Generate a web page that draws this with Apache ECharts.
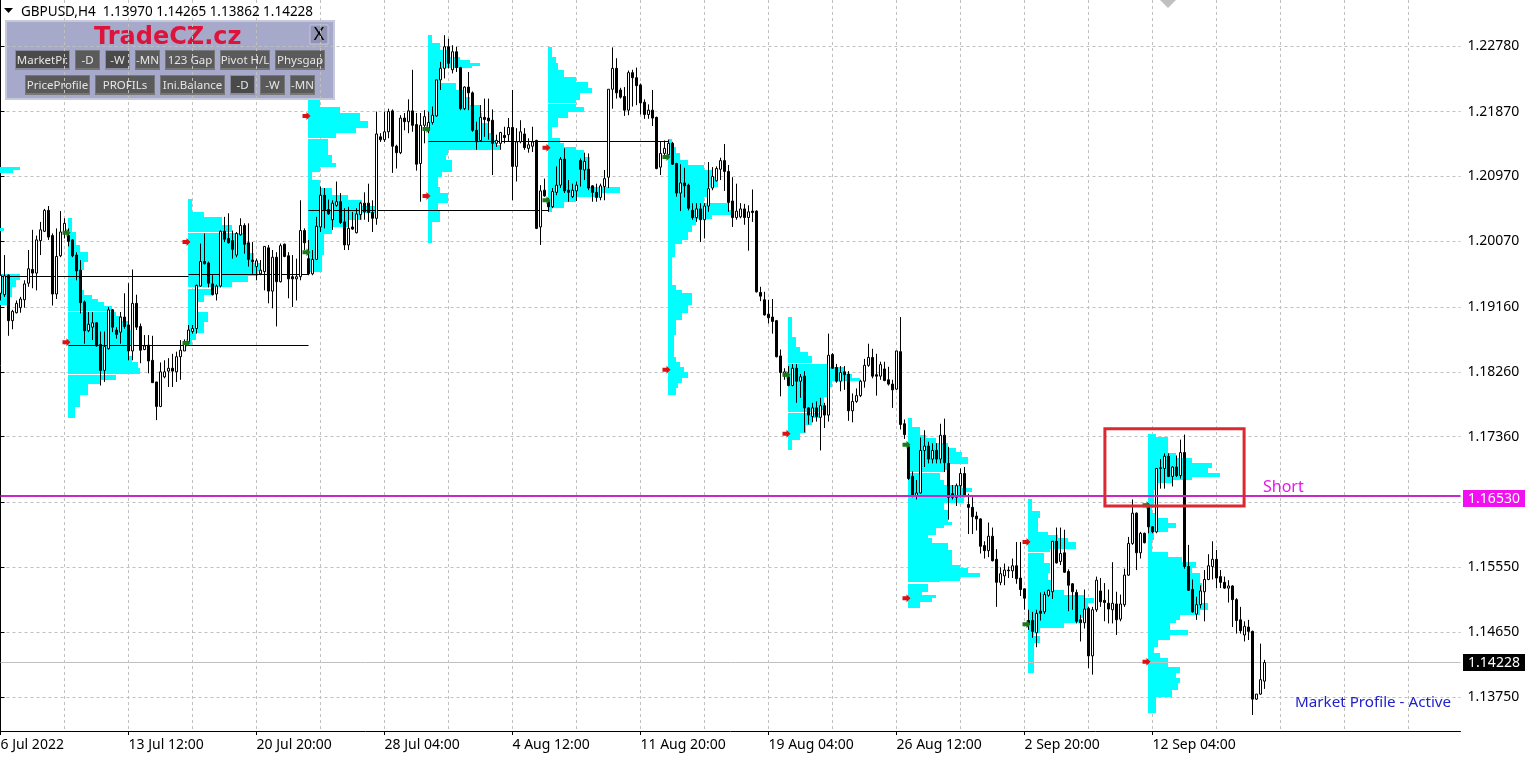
<!DOCTYPE html>
<html lang="en">

<head>
    <meta charset="UTF-8">
    <title>GBPUSD H4 Market Profile</title>
    <script src="https://cdn.jsdelivr.net/npm/echarts@6/dist/echarts.min.js"></script>
    <style>
        html, body { margin: 0; padding: 0; background: #fff; }
        #myChart { width: 1529px; height: 758px; }
    </style>
</head>

<body>
    <div id="myChart"></div>
    <script>
        // H4 bars, one row per bar: open, close, low, high
        var candles = [
            [1.1935,1.1960,1.1925,1.1973],[1.1933,1.1959,1.1930,1.1988],[1.1960,1.1897,1.1876,1.1961],[1.1897,1.1910,1.1885,1.1912],
            [1.1908,1.1921,1.1907,1.1925],[1.1915,1.1927,1.1908,1.1930],[1.1926,1.1948,1.1915,1.1953],[1.1949,1.1969,1.1944,1.1995],
            [1.1968,1.1963,1.1942,1.2023],[1.1963,1.2009,1.1939,1.2015],[1.2008,1.2023,1.1988,1.2034],[1.2021,1.2050,1.2020,1.2052],
            [1.2050,1.2013,1.2009,1.2056],[1.2015,1.1934,1.1918,1.2018],[1.1934,1.1986,1.1927,1.2025],[1.1987,1.2020,1.1985,1.2049],
            [1.2020,1.2032,1.2011,1.2039],[1.2015,1.2007,1.2000,1.2025],[1.2009,1.1987,1.1985,1.2010],[1.1988,1.1966,1.1953,1.1992],
            [1.1967,1.1922,1.1907,1.1981],[1.1923,1.1883,1.1865,1.1925],[1.1883,1.1892,1.1881,1.1909],[1.1888,1.1894,1.1870,1.1909],
            [1.1894,1.1862,1.1861,1.1895],[1.1864,1.1828,1.1807,1.1882],[1.1828,1.1861,1.1812,1.1882],[1.1858,1.1912,1.1857,1.1916],
            [1.1912,1.1888,1.1881,1.1913],[1.1884,1.1878,1.1872,1.1888],[1.1881,1.1902,1.1865,1.1909],[1.1902,1.1889,1.1886,1.1935],
            [1.1891,1.1855,1.1842,1.1949],[1.1855,1.1921,1.1842,1.1968],[1.1921,1.1888,1.1884,1.1933],[1.1889,1.1856,1.1838,1.1893],
            [1.1857,1.1862,1.1856,1.1877],[1.1863,1.1841,1.1824,1.1877],[1.1842,1.1811,1.1811,1.1876],[1.1812,1.1778,1.1759,1.1812],
            [1.1778,1.1826,1.1777,1.1839],[1.1819,1.1826,1.1817,1.1842],[1.1827,1.1831,1.1805,1.1845],[1.1831,1.1827,1.1805,1.1851],
            [1.1826,1.1847,1.1812,1.1854],[1.1847,1.1856,1.1815,1.1870],[1.1855,1.1868,1.1855,1.1871],[1.1868,1.1884,1.1865,1.1891],
            [1.1882,1.1886,1.1879,1.1891],[1.1886,1.1946,1.1879,1.1947],[1.1945,1.1979,1.1944,1.2004],[1.1979,1.1976,1.1975,1.2018],
            [1.1977,1.1949,1.1943,1.1979],[1.1948,1.1933,1.1932,1.1960],[1.1934,1.1945,1.1925,1.1947],[1.1945,1.2021,1.1943,1.2022],
            [1.2021,1.2010,1.2006,1.2041],[1.2011,1.2005,1.2004,1.2046],[1.2008,1.1996,1.1983,1.2022],[1.1988,1.2018,1.1985,1.2020],
            [1.2016,1.2029,1.2015,1.2039],[1.2029,1.2003,1.1990,1.2032],[1.2005,1.1982,1.1972,1.2032],[1.1981,1.1979,1.1962,1.2006],
            [1.1972,1.1980,1.1953,1.1983],[1.1962,1.1967,1.1960,1.1981],[1.1965,1.2000,1.1939,1.2000],[1.1998,1.1938,1.1921,1.2002],
            [1.1938,1.1985,1.1914,1.1995],[1.1985,1.1951,1.1889,1.1992],[1.1951,1.2001,1.1950,1.2004],[1.2003,1.1986,1.1985,1.2004],
            [1.1987,1.1955,1.1928,1.1992],[1.1958,1.1955,1.1916,1.1988],[1.1955,1.1958,1.1925,1.1983],[1.1958,1.2022,1.1953,1.2064],
            [1.2022,1.2005,1.1995,1.2025],[1.1983,1.1962,1.1960,1.2009],[1.1962,1.1982,1.1960,1.1995],[1.1982,1.2028,1.1981,1.2041],
            [1.2027,1.2071,1.2020,1.2083],[1.2071,1.2051,1.2025,1.2081],[1.2051,1.2045,1.2044,1.2065],[1.2037,1.2060,1.2023,1.2064],
            [1.2057,1.2062,1.2055,1.2090],[1.2062,1.2033,1.2031,1.2074],[1.2034,1.2002,1.1995,1.2053],[1.2002,1.2025,1.1995,1.2055],
            [1.2027,1.2024,1.2023,1.2048],[1.2019,1.2045,1.2018,1.2053],[1.2044,1.2060,1.2037,1.2062],[1.2060,1.2048,1.2037,1.2075],
            [1.2060,1.2047,1.2034,1.2087],[1.2047,1.2039,1.2020,1.2064],[1.2039,1.2156,1.2030,1.2187],[1.2152,1.2148,1.2145,1.2157],
            [1.2148,1.2159,1.2145,1.2187],[1.2159,1.2187,1.2150,1.2191],[1.2188,1.2139,1.2102,1.2190],[1.2139,1.2130,1.2108,1.2141],
            [1.2130,1.2178,1.2128,1.2182],[1.2178,1.2173,1.2161,1.2185],[1.2173,1.2188,1.2157,1.2204],[1.2188,1.2168,1.2159,1.2245],
            [1.2169,1.2114,1.2105,1.2185],[1.2115,1.2168,1.2062,1.2185],[1.2168,1.2180,1.2143,1.2189],[1.2161,1.2172,1.2157,1.2187],
            [1.2172,1.2182,1.2169,1.2194],[1.2181,1.2231,1.2180,1.2231],[1.2231,1.2247,1.2217,1.2256],[1.2247,1.2277,1.2233,1.2293],
            [1.2277,1.2254,1.2247,1.2288],[1.2245,1.2270,1.2240,1.2279],[1.2270,1.2248,1.2242,1.2277],[1.2248,1.2191,1.2189,1.2249],
            [1.2191,1.2221,1.2189,1.2222],[1.2221,1.2213,1.2189,1.2242],[1.2213,1.2161,1.2159,1.2215],[1.2161,1.2145,1.2134,1.2173],
            [1.2147,1.2179,1.2145,1.2196],[1.2179,1.2176,1.2152,1.2205],[1.2178,1.2174,1.2148,1.2205],[1.2175,1.2143,1.2099,1.2190],
            [1.2143,1.2147,1.2138,1.2155],[1.2143,1.2158,1.2134,1.2159],[1.2154,1.2151,1.2143,1.2166],[1.2155,1.2165,1.2145,1.2178],
            [1.2165,1.2111,1.2064,1.2217],[1.2111,1.2145,1.2090,1.2164],[1.2145,1.2159,1.2143,1.2175],[1.2156,1.2137,1.2134,1.2164],
            [1.2136,1.2141,1.2130,1.2150],[1.2139,1.2145,1.2131,1.2166],[1.2147,1.2025,1.2024,1.2148],[1.2027,1.2077,1.2002,1.2085],
            [1.2078,1.2070,1.2069,1.2094],[1.2062,1.2055,1.2048,1.2067],[1.2055,1.2076,1.2053,1.2081],[1.2075,1.2085,1.2071,1.2111],
            [1.2085,1.2121,1.2081,1.2124],[1.2121,1.2077,1.2074,1.2136],[1.2078,1.2075,1.2062,1.2092],[1.2069,1.2078,1.2067,1.2087],
            [1.2077,1.2085,1.2063,1.2090],[1.2119,1.2107,1.2083,1.2122],[1.2106,1.2118,1.2092,1.2130],[1.2107,1.2081,1.2078,1.2129],
            [1.2084,1.2075,1.2062,1.2085],[1.2075,1.2068,1.2062,1.2087],[1.2068,1.2084,1.2064,1.2087],[1.2083,1.2094,1.2064,1.2106],
            [1.2096,1.2218,1.2081,1.2218],[1.2218,1.2247,1.2191,1.2276],[1.2247,1.2213,1.2205,1.2261],[1.2217,1.2207,1.2205,1.2220],
            [1.2208,1.2189,1.2181,1.2221],[1.2189,1.2241,1.2182,1.2244],[1.2241,1.2234,1.2194,1.2245],[1.2234,1.2223,1.2196,1.2248],
            [1.2224,1.2199,1.2183,1.2226],[1.2200,1.2183,1.2177,1.2204],[1.2183,1.2189,1.2177,1.2197],[1.2189,1.2178,1.2167,1.2217],
            [1.2179,1.2108,1.2107,1.2180],[1.2110,1.2129,1.2099,1.2145],[1.2129,1.2136,1.2122,1.2147],[1.2127,1.2143,1.2123,1.2148],
            [1.2143,1.2114,1.2113,1.2145],[1.2115,1.2074,1.2069,1.2116],[1.2074,1.2088,1.2049,1.2114],[1.2088,1.2084,1.2068,1.2109],
            [1.2085,1.2053,1.2050,1.2087],[1.2050,1.2040,1.2037,1.2060],[1.2040,1.2052,1.2034,1.2060],[1.2052,1.2037,1.2006,1.2060],
            [1.2037,1.2056,1.2011,1.2060],[1.2056,1.2080,1.2048,1.2117],[1.2081,1.2097,1.2078,1.2110],[1.2091,1.2108,1.2090,1.2111],
            [1.2107,1.2119,1.2092,1.2123],[1.2119,1.2104,1.2077,1.2142],[1.2104,1.2061,1.2048,1.2113],[1.2063,1.2040,1.2027,1.2096],
            [1.2040,1.2049,1.2037,1.2087],[1.2041,1.2052,1.2039,1.2060],[1.2052,1.2040,1.2030,1.2059],[1.2040,1.2048,1.1994,1.2057],
            [1.2049,1.2047,1.2034,1.2079],[1.2049,1.1937,1.1936,1.2050],[1.1936,1.1931,1.1924,1.1944],[1.1926,1.1905,1.1904,1.1937],
            [1.1906,1.1901,1.1893,1.1926],[1.1902,1.1896,1.1879,1.1927],[1.1897,1.1847,1.1846,1.1898],[1.1848,1.1825,1.1792,1.1857],
            [1.1820,1.1826,1.1815,1.1831],[1.1819,1.1807,1.1806,1.1834],[1.1807,1.1831,1.1806,1.1837],[1.1831,1.1813,1.1783,1.1837],
            [1.1813,1.1819,1.1790,1.1823],[1.1820,1.1776,1.1742,1.1827],[1.1776,1.1766,1.1753,1.1777],[1.1764,1.1776,1.1756,1.1783],
            [1.1776,1.1764,1.1757,1.1785],[1.1763,1.1779,1.1717,1.1790],[1.1779,1.1766,1.1748,1.1783],[1.1766,1.1849,1.1757,1.1879],
            [1.1850,1.1831,1.1830,1.1852],[1.1832,1.1813,1.1811,1.1837],[1.1813,1.1825,1.1799,1.1834],[1.1826,1.1822,1.1801,1.1834],
            [1.1823,1.1772,1.1758,1.1827],[1.1772,1.1785,1.1756,1.1796],[1.1785,1.1793,1.1783,1.1803],[1.1793,1.1813,1.1791,1.1815],
            [1.1813,1.1835,1.1804,1.1844],[1.1835,1.1846,1.1833,1.1865],[1.1846,1.1820,1.1817,1.1858],[1.1822,1.1820,1.1793,1.1851],
            [1.1820,1.1836,1.1815,1.1840],[1.1830,1.1814,1.1813,1.1840],[1.1815,1.1809,1.1807,1.1833],[1.1809,1.1801,1.1776,1.1815],
            [1.1802,1.1855,1.1801,1.1855],[1.1854,1.1753,1.1746,1.1902],[1.1754,1.1739,1.1733,1.1760],[1.1722,1.1678,1.1676,1.1724],
            [1.1681,1.1655,1.1652,1.1688],[1.1654,1.1658,1.1649,1.1676],[1.1658,1.1717,1.1657,1.1735],[1.1717,1.1723,1.1694,1.1745],
            [1.1723,1.1705,1.1699,1.1729],[1.1705,1.1717,1.1699,1.1727],[1.1717,1.1705,1.1699,1.1727],[1.1705,1.1738,1.1699,1.1754],
            [1.1738,1.1700,1.1687,1.1761],[1.1699,1.1652,1.1621,1.1722],[1.1657,1.1652,1.1649,1.1669],[1.1652,1.1668,1.1640,1.1671],
            [1.1668,1.1685,1.1652,1.1692],[1.1685,1.1654,1.1652,1.1694],[1.1642,1.1638,1.1601,1.1657],[1.1638,1.1625,1.1601,1.1652],
            [1.1626,1.1622,1.1606,1.1632],[1.1622,1.1584,1.1574,1.1623],[1.1585,1.1578,1.1567,1.1591],[1.1578,1.1598,1.1569,1.1617],
            [1.1598,1.1564,1.1563,1.1610],[1.1566,1.1534,1.1500,1.1580],[1.1534,1.1546,1.1530,1.1555],[1.1543,1.1551,1.1530,1.1560],
            [1.1551,1.1550,1.1540,1.1556],[1.1550,1.1557,1.1540,1.1567],[1.1557,1.1539,1.1532,1.1590],[1.1540,1.1524,1.1515,1.1590],
            [1.1525,1.1512,1.1496,1.1525],[1.1481,1.1477,1.1468,1.1496],[1.1481,1.1466,1.1457,1.1493],[1.1464,1.1491,1.1444,1.1496],
            [1.1494,1.1491,1.1481,1.1520],[1.1493,1.1517,1.1490,1.1521],[1.1516,1.1523,1.1514,1.1524],[1.1521,1.1591,1.1511,1.1591],
            [1.1591,1.1561,1.1560,1.1610],[1.1563,1.1574,1.1558,1.1610],[1.1575,1.1548,1.1547,1.1607],[1.1549,1.1530,1.1494,1.1552],
            [1.1532,1.1521,1.1496,1.1533],[1.1520,1.1480,1.1477,1.1524],[1.1482,1.1478,1.1452,1.1489],[1.1478,1.1497,1.1470,1.1524],
            [1.1498,1.1432,1.1415,1.1500],[1.1432,1.1496,1.1406,1.1500],[1.1496,1.1537,1.1493,1.1542],[1.1522,1.1507,1.1500,1.1540],
            [1.1509,1.1506,1.1480,1.1533],[1.1505,1.1497,1.1477,1.1524],[1.1496,1.1505,1.1477,1.1562],[1.1504,1.1482,1.1461,1.1521],
            [1.1483,1.1504,1.1480,1.1517],[1.1503,1.1544,1.1500,1.1553],[1.1544,1.1588,1.1543,1.1597],[1.1588,1.1630,1.1586,1.1649],
            [1.1630,1.1575,1.1551,1.1631],[1.1575,1.1602,1.1567,1.1604],[1.1602,1.1589,1.1588,1.1603],[1.1638,1.1611,1.1602,1.1644],
            [1.1611,1.1604,1.1602,1.1612],[1.1604,1.1692,1.1602,1.1692],[1.1692,1.1693,1.1664,1.1705],[1.1692,1.1709,1.1664,1.1713],
            [1.1709,1.1681,1.1680,1.1713],[1.1681,1.1694,1.1667,1.1695],[1.1694,1.1682,1.1680,1.1710],[1.1682,1.1714,1.1678,1.1732],
            [1.1714,1.1556,1.1553,1.1739],[1.1556,1.1523,1.1522,1.1586],[1.1524,1.1493,1.1492,1.1538],[1.1490,1.1503,1.1482,1.1514],
            [1.1503,1.1522,1.1498,1.1530],[1.1521,1.1538,1.1480,1.1551],[1.1538,1.1557,1.1537,1.1573],[1.1556,1.1566,1.1538,1.1591],
            [1.1566,1.1540,1.1526,1.1579],[1.1542,1.1534,1.1526,1.1551],[1.1534,1.1526,1.1525,1.1542],[1.1526,1.1529,1.1506,1.1537],
            [1.1529,1.1510,1.1472,1.1530],[1.1510,1.1481,1.1463,1.1512],[1.1482,1.1467,1.1463,1.1500],[1.1461,1.1473,1.1452,1.1480],
            [1.1472,1.1466,1.1454,1.1482],[1.1466,1.1372,1.1350,1.1467],[1.1372,1.1379,1.1371,1.1379],[1.1379,1.1399,1.1378,1.1449],
            [1.13970,1.14228,1.13862,1.14265]
        ];

        // one label per 32 bars
        var timeLabels = ['6 Jul 2022', '13 Jul 12:00', '20 Jul 20:00', '28 Jul 04:00', '4 Aug 12:00', '11 Aug 20:00', '19 Aug 04:00', '26 Aug 12:00', '2 Sep 20:00', '12 Sep 04:00'];
        var priceTicks = [1.2278, 1.2187, 1.2097, 1.2007, 1.1916, 1.1826, 1.1736, 1.1645, 1.1555, 1.1465, 1.1375];
        var priceLabels = [1.2278, 1.2187, 1.2097, 1.2007, 1.1916, 1.1826, 1.1736, 1.1555, 1.1465, 1.1375];

        var shortLevel = 1.1653;
        var bidLevel = 1.14228;
        var quote = 'GBPUSD,H4  1.13970 1.14265 1.13862 1.14228';

        // market profiles: first bar, then rows of [price at top of row, count in bars]
        var profile0 = [[1.2110, 5], [1.2106, 3.3], [1.2102, 0], [1.2025, 1], [1.2021, 0], [1.1962, 5], [1.1953, 4], [1.1944, 3], [1.1930, 2], [1.1919, 0]];
        var profile1 = [[1.2040, 1], [1.2020, 2], [1.2002, 3], [1.1992, 5], [1.1978, 4], [1.1967, 3.5], [1.1940, 4], [1.1933, 6], [1.1927, 7.5], [1.1923, 9], [1.1917, 11], [1.1910, 0], [1.1909, 12], [1.1903, 13.5], [1.1896, 15], [1.1884, 16], [1.1863, 15], [1.1848, 16], [1.1840, 17.5], [1.1831, 18], [1.1823, 0], [1.1822, 12], [1.1815, 8], [1.1809, 5], [1.1794, 3], [1.1777, 1.7], [1.1762, 0]];
        var profile2 = [[1.2066, 1], [1.2048, 4], [1.2041, 8.5], [1.2030, 11], [1.2020, 0], [1.2019, 14], [1.2005, 15], [1.1991, 16.5], [1.1977, 18], [1.1966, 17.5], [1.1959, 15], [1.1951, 11], [1.1943, 0], [1.1941, 6], [1.1933, 4], [1.1923, 2], [1.1909, 5], [1.1895, 4], [1.1880, 2], [1.1870, 1], [1.1862, 0]];
        var profile3 = [[1.2203, 3], [1.2193, 8], [1.2185, 13], [1.2174, 15], [1.2164, 12], [1.2157, 7], [1.2150, 0], [1.2149, 5], [1.2127, 6], [1.2116, 7], [1.2110, 3], [1.2103, 1], [1.2092, 3], [1.2081, 6], [1.2071, 10], [1.2064, 13.5], [1.2056, 17.5], [1.2046, 13.5], [1.2037, 10], [1.2027, 6], [1.2017, 4], [1.1988, 3.5], [1.1964, 0]];
        var profile4 = [[1.2293, 1], [1.2282, 3], [1.2272, 5.5], [1.2263, 8], [1.2259, 10.5], [1.2254, 13], [1.2250, 11], [1.2247, 3.5], [1.2235, 3], [1.2227, 7], [1.2217, 9], [1.2207, 10.5], [1.2196, 13], [1.2185, 13.5], [1.2171, 15], [1.2157, 16], [1.2148, 17], [1.2141, 18], [1.2134, 5], [1.2127, 4.5], [1.2120, 6], [1.2103, 3.5], [1.2096, 2.5], [1.2082, 3], [1.2074, 5], [1.2060, 2.5], [1.2051, 3], [1.2034, 1], [1.2005, 0]];
        var profile5 = [[1.2277, 1], [1.2263, 2], [1.2254, 2.5], [1.2245, 4], [1.2235, 7], [1.2228, 10], [1.2220, 11], [1.2213, 8], [1.2203, 7], [1.2199, 0], [1.2198, 7], [1.2193, 9], [1.2186, 5], [1.2178, 2.5], [1.2166, 1], [1.2150, 3], [1.2143, 4], [1.2138, 7], [1.2134, 9], [1.2124, 10.5], [1.2106, 10], [1.2092, 10.5], [1.2082, 18], [1.2074, 13], [1.2069, 7], [1.2061, 4], [1.2053, 1], [1.2048, 0]];
        var profile6 = [[1.2149, 1], [1.2138, 2], [1.2130, 3], [1.2120, 5], [1.2113, 9], [1.2106, 11], [1.2096, 12.5], [1.2082, 10], [1.2069, 9], [1.2060, 15], [1.2051, 16], [1.2044, 11], [1.2038, 7], [1.2030, 6], [1.2020, 5], [1.2009, 3.5], [1.2003, 1.7], [1.1985, 1], [1.1947, 2], [1.1940, 3.5], [1.1936, 6], [1.1919, 5], [1.1908, 3.5], [1.1898, 2], [1.1877, 1.5], [1.1847, 2], [1.1840, 3], [1.1833, 4], [1.1826, 5], [1.1817, 3.5], [1.1811, 2.5], [1.1804, 2], [1.1794, 0]];
        var profile7 = [[1.1902, 1], [1.1874, 2], [1.1860, 3], [1.1853, 5], [1.1848, 6], [1.1838, 0], [1.1837, 10], [1.1833, 14], [1.1823, 16], [1.1817, 18], [1.1813, 11], [1.1805, 10], [1.1791, 9], [1.1773, 8], [1.1770, 0], [1.1769, 8], [1.1762, 6], [1.1752, 4.5], [1.1741, 3], [1.1731, 1], [1.1718, 0]];
        var profile8 = [[1.1762, 1], [1.1750, 3], [1.1738, 4.5], [1.1734, 7], [1.1727, 10], [1.1720, 12], [1.1715, 13.5], [1.1708, 15], [1.1698, 10], [1.1690, 9], [1.1687, 0], [1.1686, 8], [1.1676, 9], [1.1669, 13.5], [1.1665, 16], [1.1659, 14], [1.1648, 14], [1.1644, 9], [1.1634, 10], [1.1620, 10], [1.1618, 11], [1.1614, 9], [1.1609, 7], [1.1600, 5], [1.1596, 6], [1.1589, 10], [1.1579, 11], [1.1565, 11], [1.1558, 13], [1.1554, 15], [1.1547, 18], [1.1542, 13], [1.1536, 8], [1.1534, 0], [1.1532, 5], [1.1521, 3.5], [1.1516, 7], [1.1512, 6], [1.1507, 3], [1.1498, 0]];
        var profile9 = [[1.1650, 1], [1.1633, 3], [1.1623, 2.5], [1.1604, 5], [1.1600, 7.5], [1.1595, 10], [1.1590, 12], [1.1580, 5.5], [1.1576, 0], [1.1575, 4], [1.1561, 5.5], [1.1547, 5], [1.1537, 6], [1.1523, 9], [1.1516, 14], [1.1512, 16.5], [1.1505, 15], [1.1496, 14], [1.1485, 13], [1.1478, 9], [1.1471, 3], [1.1464, 1.5], [1.1460, 3], [1.1450, 1.5], [1.1408, 0]];
        var profile10 = [[1.1740, 2], [1.1736, 5], [1.1713, 7], [1.1706, 11], [1.1700, 16], [1.1693, 15], [1.1686, 18], [1.1680, 11], [1.1676, 6], [1.1672, 2.5], [1.1662, 1.5], [1.1637, 1], [1.1630, 2.5], [1.1623, 5], [1.1616, 7], [1.1609, 5], [1.1604, 1.5], [1.1593, 1], [1.1576, 5], [1.1569, 8.5], [1.1562, 12], [1.1554, 11], [1.1547, 13], [1.1533, 13.5], [1.1519, 13], [1.1505, 15], [1.1496, 13], [1.1489, 8], [1.1482, 7], [1.1478, 5.5], [1.1468, 10], [1.1461, 5.5], [1.1454, 2.5], [1.1444, 1.5], [1.1436, 3], [1.1429, 5], [1.1417, 8], [1.1408, 7], [1.1402, 8], [1.1394, 7.5], [1.1385, 6], [1.1375, 2], [1.1353, 0]];
        var profiles = [[0, profile0], [17, profile1], [47, profile2], [77, profile3], [107, profile4], [137, profile5], [167, profile6], [197, profile7], [227, profile8], [257, profile9], [287, profile10]];

        // point of control lines: from bar, to bar, price
        var pocLines = [[0, 47, 1.1959], [17, 77, 1.1863], [47, 77, 1.1962], [77, 137, 1.2051], [107, 167, 1.2146]];
        // session arrows: bar, price
        var redArrows = [[16.5, 1.1867], [46.5, 1.2006], [76.5, 1.2181], [106.5, 1.2070], [136.5, 1.2137], [166.5, 1.1829], [196.5, 1.1740], [226.5, 1.1512], [256.5, 1.1590], [286.5, 1.1424]];
        var greenArrows = [[16.5, 1.2019], [46.5, 1.1866], [76.5, 1.1992], [106.5, 1.2163], [136.5, 1.2064], [166.5, 1.2124], [196.5, 1.1822], [226.5, 1.1725], [256.5, 1.1476], [286.5, 1.1641]];
        // the marked zone: bar from, bar to, price top, price bottom
        var shortBox = [[276.1, 310.9, 1.1747, 1.1640]];
        // bars that carry a time tick
        var tickEvery = 32;

        var categories = [];
        for (let i = 0; i < 366; i++) {
            categories.push(i % tickEvery === 0 && timeLabels[i / tickEvery] ? timeLabels[i / tickEvery] : '');
        }

        var profileRows = [];
        profiles.forEach(item => {
            let rows = item[1];
            for (let i = 0; i < rows.length - 1; i++) {
                profileRows.push([item[0], rows[i][0], rows[i + 1][0], rows[i][1]]);
            }
        });

        var font = '"Noto Sans"';
        var arrowPath = 'path://M0 2H4V0L8 4L4 8V6H0Z';

        function panelButton(text, x, y, w, pressed) {
            return {
                type: 'group',
                children: [
                    { type: 'rect', shape: { x: x, y: y, width: w, height: 20 }, style: { fill: pressed ? '#8a8c9c' : '#777' } },
                    { type: 'rect', shape: { x: x + 1, y: y + 1, width: w - 2, height: 17 }, style: { fill: pressed ? '#4a4a4a' : '#5a5a5a' } },
                    { type: 'text', x: x + w / 2, y: y + 11, style: { text: text, fill: '#e6e6e6', font: '11.5px ' + font, align: 'center', verticalAlign: 'middle' } }
                ]
            };
        }

        var graphic = [
            { type: 'polygon', shape: { points: [[4, 8], [13, 8], [8.5, 13]] }, style: { fill: '#000' }, z: 100 },
            { type: 'text', x: 21, y: 12, style: { text: quote, fill: '#000', font: '13.5px ' + font, verticalAlign: 'middle' }, z: 100 },
            { type: 'polygon', shape: { points: [[1160, 0], [1176, 0], [1168, 8]] }, style: { fill: '#c0c0c0' }, z: 100 },
            { type: 'text', x: 1263, y: 487, style: { text: 'Short', fill: '#e818e8', font: '16px ' + font, verticalAlign: 'middle' }, z: 100 },
            { type: 'text', x: 1295, y: 703, style: { text: 'Market Profile - Active', fill: '#2222cc', font: '15.2px ' + font, verticalAlign: 'middle' }, z: 100 },
            {
                type: 'group',
                z: 100,
                children: [
                    { type: 'rect', shape: { x: 5, y: 20, width: 330, height: 80 }, style: { fill: '#c6c8dc' } },
                    { type: 'rect', shape: { x: 7, y: 22, width: 326, height: 76 }, style: { fill: '#a6a9c9' } },
                    { type: 'text', x: 94, y: 38, style: { text: 'TradeCZ.cz', fill: '#dc143c', font: 'bold 24px "DejaVu Sans"', verticalAlign: 'middle' } },
                    { type: 'rect', shape: { x: 310, y: 25, width: 18, height: 19 }, style: { fill: '#9193b4', stroke: '#c6c8dc' } },
                    { type: 'text', x: 319, y: 35, style: { text: 'X', fill: '#000', font: '18px ' + font, align: 'center', verticalAlign: 'middle' } },
                    panelButton('MarketPr.', 15, 50, 55, true),
                    panelButton('-D', 75, 50, 25),
                    panelButton('-W', 105, 50, 25, true),
                    panelButton('-MN', 135, 50, 25),
                    panelButton('123 Gap', 165, 50, 50),
                    panelButton('Pivot H/L', 220, 50, 50),
                    panelButton('Physgap', 275, 50, 50),
                    panelButton('PriceProfile', 25, 75, 65),
                    panelButton('PROFILs', 95, 75, 60),
                    panelButton('Ini.Balance', 160, 75, 65),
                    panelButton('-D', 230, 75, 25, true),
                    panelButton('-W', 260, 75, 25),
                    panelButton('-MN', 290, 75, 25)
                ]
            }
        ];

        // horizontal price level across the grid with its tag on the price scale
        function levelRenderer(lineColor, lineWidth, tagColor, tagShift) {
            return function (params, api) {
                let a = api.coord([0, api.value(0)]);
                let b = api.coord([365, api.value(0)]);
                let y = Math.floor(a[1]) + (lineWidth % 2 ? 0.5 : 0);
                return {
                    type: 'group',
                    children: [
                        { type: 'line', shape: { x1: a[0], y1: y, x2: b[0], y2: y }, style: { stroke: lineColor, lineWidth: lineWidth } },
                        { type: 'rect', shape: { x: 1463, y: Math.round(y + tagShift - 8.5), width: 62, height: 17 }, style: { fill: tagColor } },
                        { type: 'text', x: 1494, y: y + tagShift + 1, style: { text: api.value(0).toFixed(5), fill: '#fff', font: '14px ' + font, align: 'center', verticalAlign: 'middle' } }
                    ]
                };
            };
        }

        var dom = document.getElementById('myChart');
        var myChart = echarts.init(dom);
        var option = {
            animation: false,
            backgroundColor: '#fff',
            grid: { left: 0.5, top: 0, width: 1460, height: 731, outerBoundsMode: 'none' },
            graphic: graphic,
            xAxis: [{
                type: 'category',
                data: categories,
                boundaryGap: false,
                axisLine: { lineStyle: { color: '#000', width: 1 } },
                axisTick: { show: true, interval: (i, v) => v !== '', length: 4, lineStyle: { color: '#000' } },
                axisLabel: { interval: (i, v) => v !== '', color: '#000', fontFamily: font, fontSize: 14, align: 'left', margin: 7 },
                splitLine: { show: true, interval: 15, lineStyle: { color: '#c0c0c0', type: [3, 3] } }
            }, {
                // same bars as a plain number scale, for things that sit between bars
                type: 'value',
                min: 0,
                max: 365,
                axisLine: { show: false },
                axisTick: { show: false },
                axisLabel: { show: false },
                splitLine: { show: false }
            }],
            yAxis: {
                type: 'value',
                position: 'right',
                offset: 1,
                min: 1.13278,
                max: 1.23418,
                axisLine: { show: true, lineStyle: { color: '#000' } },
                axisTick: { show: true, length: 4, customValues: priceTicks, lineStyle: { color: '#000' } },
                axisLabel: { color: '#000', fontFamily: font, fontSize: 14, margin: 6, padding: [6, 0, 0, 0], customValues: priceLabels, formatter: v => v.toFixed(5) },
                splitLine: { show: true, lineStyle: { color: '#c0c0c0', type: [3, 3] } }
            },
            series: [{
                name: 'profiles',
                type: 'custom',
                xAxisIndex: 1,
                z: 1,
                clip: true,
                silent: true,
                encode: { x: 0, y: 1 },
                data: profileRows,
                renderItem: function (params, api) {
                    let a = api.coord([api.value(0), api.value(1)]);
                    let b = api.coord([api.value(0) + api.value(3), api.value(2)]);
                    // whole pixels, so neighbouring rows close up without seams
                    let x = Math.floor(a[0]);
                    let y = Math.round(a[1]);
                    return {
                        type: 'rect',
                        shape: { x: x, y: y, width: Math.floor(b[0]) - x, height: Math.round(b[1]) - y },
                        style: { fill: '#00ffff' }
                    };
                }
            }, {
                name: 'bid',
                type: 'custom',
                xAxisIndex: 1,
                z: 2,
                silent: true,
                clip: false,
                encode: { y: 0 },
                data: [[bidLevel]],
                renderItem: levelRenderer('#c0c0c0', 1, '#000', 0)
            }, {
                name: 'poc',
                type: 'custom',
                xAxisIndex: 1,
                z: 2,
                silent: true,
                encode: { x: [0, 1], y: 2 },
                data: pocLines,
                renderItem: function (params, api) {
                    let a = api.coord([api.value(0), api.value(2)]);
                    let b = api.coord([api.value(1), api.value(2)]);
                    return {
                        type: 'line',
                        shape: { x1: a[0], y1: Math.round(a[1]) + 0.5, x2: b[0], y2: Math.round(b[1]) + 0.5 },
                        style: { stroke: '#000', lineWidth: 1 }
                    };
                }
            }, {
                name: 'GBPUSD',
                type: 'candlestick',
                xAxisIndex: 0,
                z: 3,
                barWidth: 3,
                data: candles,
                itemStyle: { color: '#fff', color0: '#000', borderColor: '#000', borderColor0: '#000', borderWidth: 1 }
            }, {
                name: 'short level',
                type: 'custom',
                xAxisIndex: 1,
                z: 4,
                silent: true,
                clip: false,
                encode: { y: 0 },
                data: [[shortLevel]],
                renderItem: levelRenderer('#c828c8', 2, '#f010f0', 2.5)
            }, {
                name: 'red arrows',
                type: 'scatter',
                xAxisIndex: 1,
                z: 4,
                silent: true,
                symbol: arrowPath,
                symbolSize: 8,
                itemStyle: { color: '#e01010', opacity: 1 },
                data: redArrows
            }, {
                name: 'green arrows',
                type: 'scatter',
                xAxisIndex: 1,
                z: 4,
                silent: true,
                symbol: arrowPath,
                symbolSize: 8,
                itemStyle: { color: '#1a7a1a', opacity: 1 },
                data: greenArrows
            }, {
                name: 'short zone',
                type: 'custom',
                xAxisIndex: 1,
                z: 5,
                silent: true,
                encode: { x: [0, 1], y: [2, 3] },
                data: shortBox,
                renderItem: function (params, api) {
                    let a = api.coord([api.value(0), api.value(2)]);
                    let b = api.coord([api.value(1), api.value(3)]);
                    return {
                        type: 'rect',
                        shape: { x: a[0], y: a[1], width: b[0] - a[0], height: b[1] - a[1] },
                        style: { fill: 'none', stroke: '#dc2830', lineWidth: 3 }
                    };
                }
            }]
        };
        myChart.setOption(option);
    </script>
</body>

</html>
